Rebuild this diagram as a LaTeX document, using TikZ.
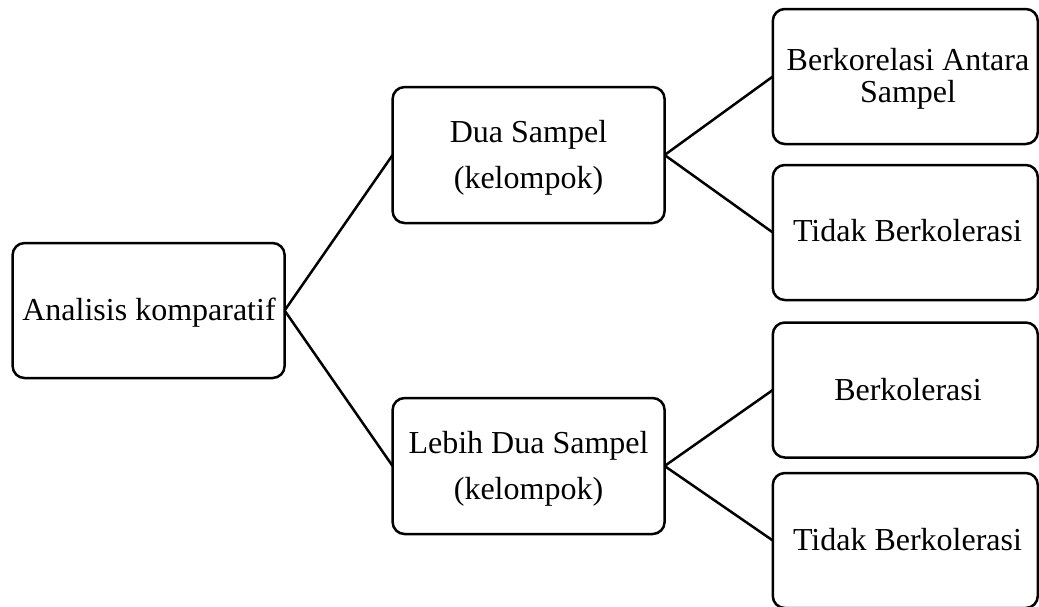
\documentclass[tikz,border=0pt]{standalone}
\usepackage{fontspec}
\setmainfont{Liberation Serif}
\newcommand{\twoln}[2]{\begin{tabular}[t]{@{}c@{}}#1\\#2\end{tabular}}
\begin{document}
\begin{tikzpicture}[x=1pt,y=-1pt,
  box/.style={draw, line width=2.5pt, rounded corners=12pt, inner sep=0pt, outer sep=0pt},
  leftbox/.style={box, minimum width=272pt, minimum height=135pt},
  midbox/.style={box, minimum width=272pt, minimum height=136pt},
  rightbox/.style={box, minimum width=265pt, minimum height=135pt},
  txt/.style={inner sep=0pt, anchor=base, font=\fontsize{32}{32}\selectfont},
  midtxt/.style={txt, font=\fontsize{32}{46}\selectfont},
  link/.style={line width=2.5pt}]
\useasboundingbox (0,0) rectangle (1039,606);
\clip (0,0) rectangle (1039,606);

% boxes
\node[leftbox] (a) at (148.6,310.5) {};
\node[midbox] (b) at (528.6,155) {};
\node[midbox] (c) at (528.6,466) {};
\node[rightbox] (r1) at (905.3,76.5) {};
\node[rightbox] (r2) at (905.3,232.5) {};
\node[rightbox] (r3) at (905.3,390) {};
\node[rightbox] (r4) at (905.3,540.5) {};

% texts
\node[txt] (ta) at (149,320) {Analisis komparatif};
\node[midtxt] (tb) at (528.5,142) {\twoln{Dua Sampel}{(kelompok)}};
\node[midtxt] (tc) at (528.5,453.3) {\twoln{Lebih Dua Sampel}{(kelompok)}};
\node[txt] (t1) at (908,70) {\twoln{Berkorelasi Antara}{Sampel}};
\node[txt] (t2) at (907.5,241.7) {Tidak Berkolerasi};
\node[txt] (t3) at (908,400) {Berkolerasi};
\node[txt] (t4) at (907.5,550) {Tidak Berkolerasi};

% connectors
\draw[link] (a.east) -- (b.west);
\draw[link] (a.east) -- (c.west);
\draw[link] (b.east) -- (r1.west);
\draw[link] (b.east) -- (r2.west);
\draw[link] (c.east) -- (r3.west);
\draw[link] (c.east) -- (r4.west);
\end{tikzpicture}
\end{document}
